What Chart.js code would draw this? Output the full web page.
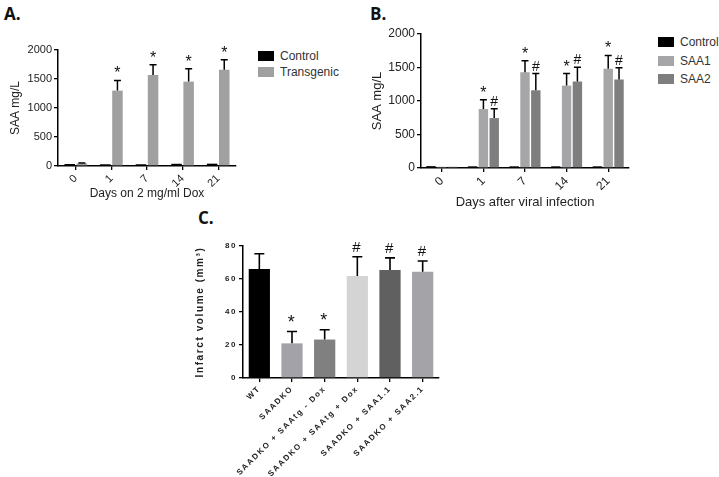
<!DOCTYPE html>
<html>
<head>
<meta charset="utf-8">
<script src="https://cdn.jsdelivr.net/npm/chart.js@4.4.1/dist/chart.umd.min.js"></script>
<style>
  html, body { margin: 0; padding: 0; background: #fff; }
  body { width: 719px; height: 477px; position: relative; overflow: hidden; font-family: "Liberation Sans", Arial, sans-serif; }
  canvas { position: absolute; }
  .panel { position: absolute; font-family: "Open Sans", "Liberation Sans", sans-serif; font-weight: bold; font-size: 17px; color: #111; }
  .legend { position: absolute; color: #333; }
  .legend .row { position: absolute; white-space: nowrap; display: flex; align-items: center; }
  .legend .sw { display: inline-block; width: 16px; height: 10px; margin-right: 6px; }
</style>
</head>
<body>
<div class="panel" style="left:4px; top:2px;">A.</div>
<div class="panel" style="left:370px; top:2px;">B.</div>
<div class="panel" style="left:198px; top:206px;">C.</div>

<canvas id="chartA" width="250" height="162" style="left:0px; top:40px;"></canvas>
<canvas id="chartB" width="290" height="191" style="left:360px; top:20px;"></canvas>
<canvas id="chartC" width="275" height="252" style="left:180px; top:225px;"></canvas>

<div class="legend" id="legendA" style="left:258px; top:49px; font-size:12px;"></div>
<div class="legend" id="legendB" style="left:658px; top:35px; font-size:12px;"></div>

<script>
// ---- Panel A: SAA in transgenic mice on Dox ----
const daysA = ['0', '1', '7', '14', '21'];
const controlA = [35, 30, 30, 38, 40];
const transgenicA = [45, 1300, 1570, 1455, 1660];
const transgenicErrA = [8, 175, 175, 220, 170];
const transgenicMarksA = ['', '*', '*', '*', '*'];

// ---- Panel B: SAA after viral infection ----
const daysB = ['0', '1', '7', '14', '21'];
const controlB = [28, 25, 25, 25, 25];
const saa1B = [18, 880, 1430, 1230, 1480];
const saa1ErrB = [0, 140, 170, 180, 200];
const saa1MarksB = ['', '*', '*', '*', '*'];
const saa2B = [18, 745, 1160, 1290, 1320];
const saa2ErrB = [0, 140, 250, 215, 175];
const saa2MarksB = ['', '#', '#', '#', '#'];

// ---- Panel C: infarct volume ----
const groupsC = ['WT', 'SAADKO', 'SAADKO + SAAtg - Dox', 'SAADKO + SAAtg + Dox', 'SAADKO + SAA1.1', 'SAADKO + SAA2.1'];
const infarctC = [66, 21, 23.3, 61.8, 65.5, 64.4];
const infarctErrC = [9.3, 7.2, 5.9, 11.7, 7.3, 6.5];
const infarctMarksC = ['', '*', '*', '#', '#', '#'];
const colorsC = ['#000000', '#a2a2a8', '#808080', '#d4d4d4', '#606060', '#a4a4a8'];

const TEXT = '#222';
const AXIS_FONT = '"Liberation Sans", Arial, sans-serif';

// draws upward error bars and significance marks from dataset.errors / dataset.marks
const errorBarPlugin = {
    id: 'errorBars',
    afterDatasetsDraw(chart, args, opts) {
        const ctx = chart.ctx;
        const yScale = chart.scales.y;
        chart.data.datasets.forEach((ds, i) => {
            if (!ds.errors) return;
            const meta = chart.getDatasetMeta(i);
            meta.data.forEach((bar, j) => {
                const err = ds.errors[j];
                if (!err) return;
                const top = yScale.getPixelForValue(ds.data[j] + err);
                ctx.save();
                ctx.strokeStyle = '#000';
                ctx.lineWidth = opts.lineWidth || 1.5;
                ctx.beginPath();
                ctx.moveTo(bar.x, bar.y);
                ctx.lineTo(bar.x, top);
                ctx.moveTo(bar.x - opts.cap, top);
                ctx.lineTo(bar.x + opts.cap, top);
                ctx.stroke();
                const mark = ds.marks && ds.marks[j];
                if (mark) {
                    ctx.fillStyle = '#111';
                    ctx.textAlign = 'center';
                    ctx.textBaseline = 'alphabetic';
                    if (mark === '*') {
                        ctx.font = opts.starFont;
                        ctx.fillText(mark, bar.x, top - opts.starGap);
                    } else {
                        ctx.font = opts.hashFont;
                        ctx.fillText(mark, bar.x, top - opts.hashGap);
                    }
                }
                ctx.restore();
            });
        });
    }
};

// letter spacing for panel C text (spaced-out GraphPad look)
const spacingPlugin = {
    id: 'spacing',
    beforeUpdate(chart, args, opts) { chart.ctx.letterSpacing = opts.value || '0px'; },
    beforeDraw(chart, args, opts) { chart.ctx.letterSpacing = opts.value || '0px'; }
};

function axisCommon(fontSize, bold) {
    return {
        grid: { display: true, drawOnChartArea: false, drawTicks: true, tickLength: 4, color: '#000', lineWidth: 1.3, offset: false },
        border: { display: true, color: '#000', width: 1.5 },
        ticks: { color: TEXT, font: { family: AXIS_FONT, size: fontSize, weight: bold ? 'bold' : 'normal' }, padding: 2 }
    };
}

function buildOptions({ yMax, yStep, yTitle, xTitle, yWidth, xHeight, padding, tickSize, titleSize, yTitlePad, bold, errOpts, spacing }) {
    const x = axisCommon(tickSize, bold);
    x.ticks.minRotation = 45;
    x.ticks.maxRotation = 45;
    x.ticks.autoSkip = false;
    x.afterFit = s => { s.height = xHeight; };
    if (xTitle) {
        x.title = { display: true, text: xTitle, color: TEXT, font: { family: AXIS_FONT, size: titleSize }, padding: { top: 0, bottom: 1 } };
    }
    const y = axisCommon(tickSize, bold);
    y.min = 0;
    y.max = yMax;
    y.ticks.stepSize = yStep;
    y.ticks.callback = v => String(v);
    y.afterFit = s => { s.width = yWidth; };
    y.title = { display: true, text: yTitle, color: TEXT, font: { family: AXIS_FONT, size: titleSize, weight: bold ? 'bold' : 'normal' }, padding: { top: yTitlePad, bottom: 0 } };
    return {
        responsive: false,
        animation: false,
        layout: { padding },
        plugins: { legend: { display: false }, tooltip: { enabled: false }, errorBars: errOpts, spacing: { value: spacing } },
        scales: { x, y }
    };
}

new Chart(document.getElementById('chartA'), {
    type: 'bar',
    data: {
        labels: daysA,
        datasets: [
            { label: 'Control', data: controlA, backgroundColor: '#000000', categoryPercentage: 0.68, barPercentage: 0.87 },
            { label: 'Transgenic', data: transgenicA, errors: transgenicErrA, marks: transgenicMarksA, backgroundColor: '#a0a0a0', categoryPercentage: 0.68, barPercentage: 0.87 }
        ]
    },
    options: buildOptions({
        yMax: 2000, yStep: 500, yTitle: 'SAA mg/L', xTitle: 'Days on 2 mg/ml Dox',
        yWidth: 58, xHeight: 36, padding: { top: 10, right: 14, left: 0, bottom: 0 },
        tickSize: 11, titleSize: 12, yTitlePad: 8, bold: false,
        errOpts: { cap: 3.5, lineWidth: 1.5, starFont: '16px ' + AXIS_FONT, starGap: 2, hashFont: '13px ' + AXIS_FONT, hashGap: 5 }
    }),
    plugins: [errorBarPlugin]
});

new Chart(document.getElementById('chartB'), {
    type: 'bar',
    data: {
        labels: daysB,
        datasets: [
            { label: 'Control', data: controlB, backgroundColor: '#000000', categoryPercentage: 0.78, barPercentage: 0.87 },
            { label: 'SAA1', data: saa1B, errors: saa1ErrB, marks: saa1MarksB, backgroundColor: '#a6a6a9', categoryPercentage: 0.78, barPercentage: 0.87 },
            { label: 'SAA2', data: saa2B, errors: saa2ErrB, marks: saa2MarksB, backgroundColor: '#7e7e7e', categoryPercentage: 0.78, barPercentage: 0.87 }
        ]
    },
    options: buildOptions({
        yMax: 2000, yStep: 500, yTitle: 'SAA mg/L', xTitle: 'Days after viral infection',
        yWidth: 61, xHeight: 43, padding: { top: 14, right: 21, left: 0, bottom: 0 },
        tickSize: 12, titleSize: 13, yTitlePad: 10, bold: false,
        errOpts: { cap: 3.5, lineWidth: 1.5, starFont: '16px ' + AXIS_FONT, starGap: 2, hashFont: '14px ' + AXIS_FONT, hashGap: 3 }
    }),
    plugins: [errorBarPlugin]
});

new Chart(document.getElementById('chartC'), {
    type: 'bar',
    data: {
        labels: groupsC,
        datasets: [
            { label: 'Infarct volume', data: infarctC, errors: infarctErrC, marks: infarctMarksC, backgroundColor: colorsC, categoryPercentage: 1, barPercentage: 0.65 }
        ]
    },
    options: buildOptions({
        yMax: 80, yStep: 20, yTitle: 'Infarct volume (mm³)', xTitle: null,
        yWidth: 63, xHeight: 99, padding: { top: 21, right: 16, left: 0, bottom: 0 },
        tickSize: 8, titleSize: 10, yTitlePad: 14, bold: true, spacing: '1.6px',
        errOpts: { cap: 5, lineWidth: 1.6, starFont: '18px ' + AXIS_FONT, starGap: 3.5, hashFont: '15px ' + AXIS_FONT, hashGap: 5 }
    }),
    plugins: [errorBarPlugin, spacingPlugin]
});

// HTML legends for A and B, positioned like the figure
function renderLegend(el, items, rowGap) {
    el.innerHTML = items.map((it, i) =>
        `<div class="row" style="top:${i * rowGap}px"><span class="sw" style="background:${it.color}"></span>${it.label}</div>`
    ).join('');
}
renderLegend(document.getElementById('legendA'), [
    { label: 'Control', color: '#000000' },
    { label: 'Transgenic', color: '#a0a0a0' }
], 16);
renderLegend(document.getElementById('legendB'), [
    { label: 'Control', color: '#000000' },
    { label: 'SAA1', color: '#a6a6a9' },
    { label: 'SAA2', color: '#7e7e7e' }
], 18.5);
</script>
</body>
</html>
